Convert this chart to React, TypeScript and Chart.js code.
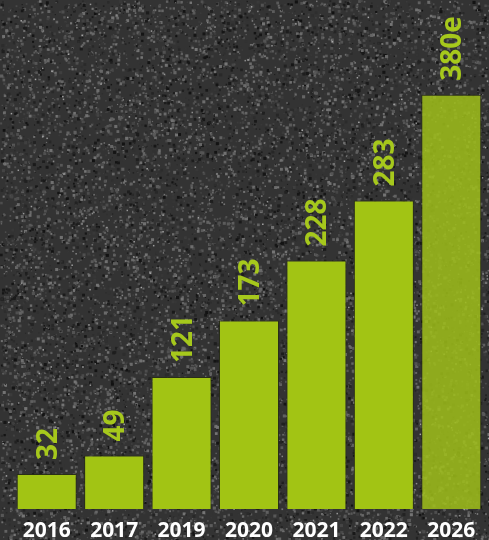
import React, { useEffect, useRef } from "react";
import { Chart, registerables } from "chart.js";

Chart.register(...registerables);

const categories = ["2016", "2017", "2019", "2020", "2021", "2022", "2026"];
const values = [32, 49, 121, 173, 228, 283, 380];
const valueLabels = ["32", "49", "121", "173", "228", "283", "380e"];

const GREEN = "#a2c414";
const GREEN_EST = "rgba(158, 190, 26, 0.86)";

const texturePlugin = {
  id: "asphalt",
  beforeDraw(chart: any) {
    const { ctx, width, height } = chart;
    ctx.save();
    ctx.fillStyle = "#333333";
    ctx.fillRect(0, 0, width, height);
    let seed = 12345;
    const rnd = () => {
      seed = (seed * 1664525 + 1013904223) % 4294967296;
      return seed / 4294967296;
    };
    const n = Math.floor(width * height * 0.07);
    for (let i = 0; i < n; i++) {
      const x = rnd() * width;
      const y = rnd() * height;
      const g = Math.floor(18 + rnd() * 100);
      const s = 1 + rnd() * 2.2;
      ctx.fillStyle = `rgb(${g},${g},${g})`;
      ctx.fillRect(x, y, s, s);
    }
    for (let i = 0; i < 450; i++) {
      const x = rnd() * width;
      const y = rnd() * height;
      const g = Math.floor(140 + rnd() * 80);
      ctx.fillStyle = `rgba(${g},${g},${g},0.7)`;
      ctx.fillRect(x, y, 1.5, 1.5);
    }
    ctx.restore();
  },
};

const valueLabelPlugin = {
  id: "valueLabels",
  afterDatasetsDraw(chart: any) {
    const { ctx } = chart;
    const meta = chart.getDatasetMeta(0);
    ctx.save();
    ctx.fillStyle = "#a6c81c";
    ctx.font = "bold 28px 'Open Sans', sans-serif";
    ctx.textAlign = "left";
    ctx.textBaseline = "middle";
    meta.data.forEach((bar: any, i: number) => {
      ctx.save();
      ctx.translate(bar.x, bar.y - 14);
      ctx.rotate(-Math.PI / 2);
      ctx.fillText(valueLabels[i], 0, 2);
      ctx.restore();
    });
    ctx.restore();
  },
};

export default function App() {
  const canvasRef = useRef<HTMLCanvasElement | null>(null);

  useEffect(() => {
    if (!canvasRef.current) return;
    const chart = new Chart(canvasRef.current, {
      type: "bar",
      data: {
        labels: categories,
        datasets: [
          {
            data: values,
            backgroundColor: values.map((_, i) => (i === values.length - 1 ? GREEN_EST : GREEN)),
            borderColor: "rgba(40, 45, 20, 0.9)",
            borderWidth: 1,
            categoryPercentage: 1,
            barPercentage: 0.89,
          },
        ],
      },
      options: {
        animation: false,
        responsive: true,
        maintainAspectRatio: false,
        layout: { padding: { left: 13, right: 4, top: 0, bottom: 0 } },
        plugins: { legend: { display: false }, tooltip: { enabled: false } },
        scales: {
          x: {
            grid: { display: false, drawTicks: false },
            border: { display: false },
            ticks: {
              color: "#ffffff",
              font: { family: "'Open Sans', sans-serif", size: 21, weight: "bold" },
              padding: 9,
              maxRotation: 0,
            },
            afterFit(scale: any) {
              scale.height = 31;
            },
          },
          y: {
            display: false,
            min: 0,
            max: 467,
          },
        },
      },
      plugins: [texturePlugin, valueLabelPlugin],
    });
    return () => chart.destroy();
  }, []);

  return (
    <div style={{ position: "absolute", left: 0, top: 0, width: 489, height: 540 }}>
      <canvas ref={canvasRef} />
    </div>
  );
}
